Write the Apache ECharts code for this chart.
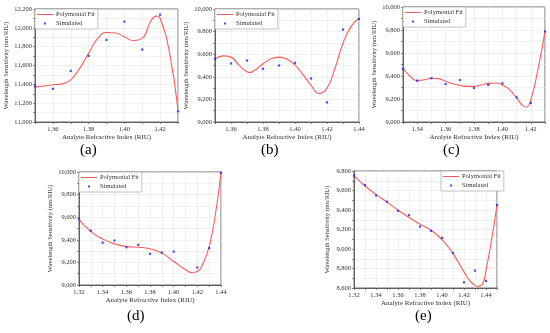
<!DOCTYPE html>
<html><head><meta charset="utf-8">
<script src="https://cdn.jsdelivr.net/npm/echarts@6/dist/echarts.min.js"></script>
<style>html,body{margin:0;padding:0;background:#fff}#c{width:550px;height:333px}</style>
</head><body><div id="c"></div>
<script>
// ---- Data ----
// (a)
const simXA = [1.35,1.36,1.37,1.38,1.39,1.40,1.41,1.42,1.43];
const simYA = [11378,11353,11543,11702,11872,12066,11769,12140,11113];
const fitXA = [1.35,1.36,1.365,1.37,1.375,1.38,1.385,1.39,1.395,1.40,1.405,1.41,1.415,1.418,1.42,1.425,1.43];
const fitYA = [11370,11395,11405,11448,11570,11730,11885,11950,11945,11905,11865,11890,12080,12126,12100,11760,11130];
// (b)
const simXB = [1.35,1.36,1.37,1.38,1.39,1.40,1.41,1.42,1.43,1.44];
const simYB = [9559,9518,9544,9471,9500,9524,9385,9174,9818,9912];
const fitXB = [1.35,1.355,1.36,1.365,1.37,1.372,1.375,1.38,1.385,1.39,1.395,1.40,1.405,1.41,1.415,1.42,1.425,1.43,1.435,1.44];
const fitYB = [9556,9585,9574,9503,9445,9438,9460,9515,9560,9574,9556,9503,9420,9326,9252,9300,9476,9697,9844,9918];
// (c)
const simXC = [1.33,1.34,1.35,1.36,1.37,1.38,1.39,1.40,1.41,1.42,1.43];
const simYC = [9461,9359,9380,9330,9365,9296,9322,9336,9214,9165,9788];
const fitXC = [1.33,1.335,1.34,1.345,1.35,1.355,1.36,1.365,1.37,1.375,1.38,1.385,1.39,1.395,1.40,1.405,1.41,1.415,1.417,1.42,1.425,1.43];
const fitYC = [9470,9397,9360,9368,9380,9377,9354,9333,9319,9310,9310,9322,9336,9339,9322,9281,9209,9136,9130,9194,9455,9788];
// (d)
const simXD = [1.32,1.33,1.34,1.35,1.36,1.37,1.38,1.39,1.40,1.42,1.43,1.44];
const simYD = [9581,9481,9375,9393,9334,9355,9276,9287,9296,9155,9326,9994];
const fitXD = [1.32,1.33,1.34,1.35,1.36,1.37,1.38,1.39,1.40,1.41,1.415,1.42,1.425,1.43,1.435,1.44];
const fitYD = [9581,9472,9408,9364,9340,9334,9320,9282,9208,9135,9111,9120,9194,9340,9604,10000];
// (e)
const simXE = [1.32,1.33,1.34,1.35,1.36,1.37,1.38,1.39,1.40,1.41,1.42,1.43,1.44,1.45];
const simYE = [9752,9656,9550,9485,9392,9347,9231,9186,9114,8960,8658,8778,8672,9450];
const fitXE = [1.32,1.33,1.34,1.35,1.36,1.37,1.38,1.39,1.40,1.41,1.42,1.425,1.43,1.4335,1.437,1.44,1.445,1.45];
const fitYE = [9752,9646,9560,9481,9399,9323,9255,9193,9097,8953,8765,8679,8627,8617,8645,8782,9090,9450];

const panelLabels = ['(a)','(b)','(c)','(d)','(e)'];
const xName = 'Analyte Refractive Index (RIU)';
const yName = 'Wavelength Sensitivity (nm/RIU)';
const fitName = 'Polymonial Fit';
const simName = 'Simulated';

// ---- Layout ----
const grids = [
  {left:35, top:9, width:143, height:113},
  {left:215, top:9, width:144, height:113},
  {left:403, top:7, width:142, height:115},
  {left:79, top:172, width:142, height:113},
  {left:354, top:171, width:143, height:117}
];
const xRanges = [[1.35,1.43],[1.35,1.44],[1.33,1.43],[1.32,1.44],[1.32,1.45]];
const yRanges = [[11000,12200],[9000,10000],[9000,10000],[9000,10000],[8600,9800]];
const labelPos = [[90,152],[271,152],[453,152],[137,318],[425,318]];
const legendRight = [false,false,false,false,true];

const sims = [[simXA,simYA],[simXB,simYB],[simXC,simYC],[simXD,simYD],[simXE,simYE]];
const fits = [[fitXA,fitYA],[fitXB,fitYB],[fitXC,fitYC],[fitXD,fitYD],[fitXE,fitYE]];

const FONT = '"Liberation Serif","Times New Roman",serif';
const RED = '#ff5a5a';
const BLUE = '#1f1fff';
const zip = (a,b)=>a.map((v,i)=>[v,b[i]]);

const option = {
  animation:false,
  backgroundColor:'#fff',
  textStyle:{fontFamily:FONT},
  grid: grids.map(g=>Object.assign({show:true,borderColor:'#444',borderWidth:0.8,backgroundColor:'#fff'},g)),
  xAxis: xRanges.map((r,i)=>({
    type:'value', gridIndex:i, min:r[0], max:r[1], interval:0.01,
    name:xName, nameLocation:'middle', nameGap:11,
    nameTextStyle:{fontFamily:FONT,fontSize:7,color:'#333'},
    axisLine:{show:true,lineStyle:{color:'#444',width:0.8}},
    axisTick:{show:true,length:2,lineStyle:{color:'#444',width:0.6}},
    axisLabel:{fontFamily:FONT,fontSize:6.5,color:'#333',margin:4,
      formatter:v=>{const k=Math.round(v*100);return k%2===0?(k/100).toFixed(2):'';}},
    splitLine:{show:true,lineStyle:{color:'#e6e6e6',width:0.6}}
  })),
  yAxis: yRanges.map((r,i)=>({
    type:'value', gridIndex:i, min:r[0], max:r[1], interval:100,
    name:yName, nameLocation:'middle', nameGap:23,
    nameTextStyle:{fontFamily:FONT,fontSize:6.5,color:'#333'},
    axisLine:{show:true,lineStyle:{color:'#444',width:0.8}},
    axisTick:{show:true,length:2,lineStyle:{color:'#444',width:0.6}},
    axisLabel:{fontFamily:FONT,fontSize:6.5,color:'#333',margin:3,
      formatter:v=>{const k=Math.round(v);return k%200===0?k.toLocaleString('en-US'):'';}},
    splitLine:{show:true,lineStyle:{color:'#e6e6e6',width:0.6}}
  })),
  legend: grids.map((g,i)=>{
    const l = {
      top:g.top, orient:'vertical',
      data:[{name:fitName,icon:'path://M0,0L20,0L20,1.3L0,1.3Z'},{name:simName,icon:'path://M0,0L1,0L1,1L0,1Z'}],
      itemWidth:16, itemHeight:2, itemGap:2, symbolKeepAspect:true,
      padding:[2,3,2,2],
      borderColor:'#999', borderWidth:0.6, backgroundColor:'#fff',
      textStyle:{fontFamily:FONT,fontSize:6.5,color:'#333',padding:[0,0,0,-2]},
      selectedMode:false
    };
    if(legendRight[i]) l.left = g.left+g.width-56; else l.left = g.left;
    return l;
  }),
  series: [],
  graphic: panelLabels.map((t,i)=>({
    type:'text', left:labelPos[i][0]-10, top:labelPos[i][1]-9,
    style:{text:t, font:'15px '+FONT, fill:'#000'}
  }))
};

for(let i=0;i<5;i++){
  option.series.push({
    name:fitName, type:'line', xAxisIndex:i, yAxisIndex:i,
    data:zip(fits[i][0],fits[i][1]), smooth:0.5, showSymbol:false,
    lineStyle:{color:RED,width:1.1}, itemStyle:{color:RED}, z:2
  });
  option.series.push({
    name:simName, type:'scatter', xAxisIndex:i, yAxisIndex:i,
    data:zip(sims[i][0],sims[i][1]), symbol:'rect', symbolSize:2.2,
    itemStyle:{color:BLUE}, z:3
  });
}

const chart = echarts.init(document.getElementById('c'),null,{renderer:'canvas'});
chart.setOption(option);
</script>
</body></html>
